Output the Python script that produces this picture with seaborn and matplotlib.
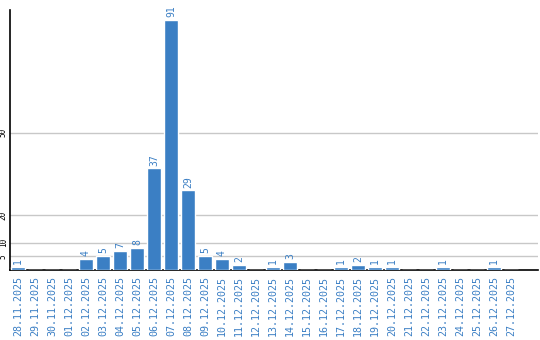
import matplotlib
matplotlib.use("Agg")
import matplotlib.pyplot as plt
import seaborn as sns
import pandas as pd

dates = ["28.11.2025", "29.11.2025", "30.11.2025", "01.12.2025", "02.12.2025",
         "03.12.2025", "04.12.2025", "05.12.2025", "06.12.2025", "07.12.2025",
         "08.12.2025", "09.12.2025", "10.12.2025", "11.12.2025", "12.12.2025",
         "13.12.2025", "14.12.2025", "15.12.2025", "16.12.2025", "17.12.2025",
         "18.12.2025", "19.12.2025", "20.12.2025", "21.12.2025", "22.12.2025",
         "23.12.2025", "24.12.2025", "25.12.2025", "26.12.2025", "27.12.2025"]
values = [1, 0, 0, 0, 4, 5, 7, 8, 37, 91, 29, 5, 4, 2, 0, 1, 3, 0, 0, 1,
          2, 1, 1, 0, 0, 1, 0, 0, 1, 0]
yticks = [5, 10, 20, 50]

BLUE = "#3b7fc4"
sns.set_theme(style="white")
plt.rcParams["font.family"] = ["DejaVu Sans Mono", "DejaVu Sans"]

df = pd.DataFrame({"date": dates, "value": values})

fig = plt.figure(figsize=(5.4, 3.4), dpi=100)
ax = fig.add_axes([10/540, 70/340, 528/540, 260/340])
sns.barplot(data=df, x="date", y="value", color=BLUE, saturation=1,
            width=14/17, ax=ax, zorder=3)

ax.set_xlim(-0.47, 30.6)
ax.set_ylim(0, 94.6)
ax.set_yticks(yticks)
ax.set_yticklabels([str(t) for t in yticks], rotation=90, va="center",
                   fontsize=5.5, color="black")
ax.yaxis.grid(True, color="#c8c8c8", linewidth=1, zorder=0)
ax.xaxis.grid(False)
ax.tick_params(axis="y", length=0, pad=1.5)
ax.tick_params(axis="x", length=0, pad=4)
ax.set_xticks(range(len(dates)))
ax.set_xticklabels(dates, rotation=90, fontsize=7.2, color=BLUE)
ax.set_xlabel("")
ax.set_ylabel("")

for s in ["top", "right"]:
    ax.spines[s].set_visible(False)
for s in ["left", "bottom"]:
    ax.spines[s].set_color("black")
    ax.spines[s].set_linewidth(1.2)

labels = [str(v) if v else "" for v in values]
ax.bar_label(ax.containers[0], labels=labels, rotation=90, padding=2,
             fontsize=7, color=BLUE)

fig.savefig("out.png", dpi=100)
